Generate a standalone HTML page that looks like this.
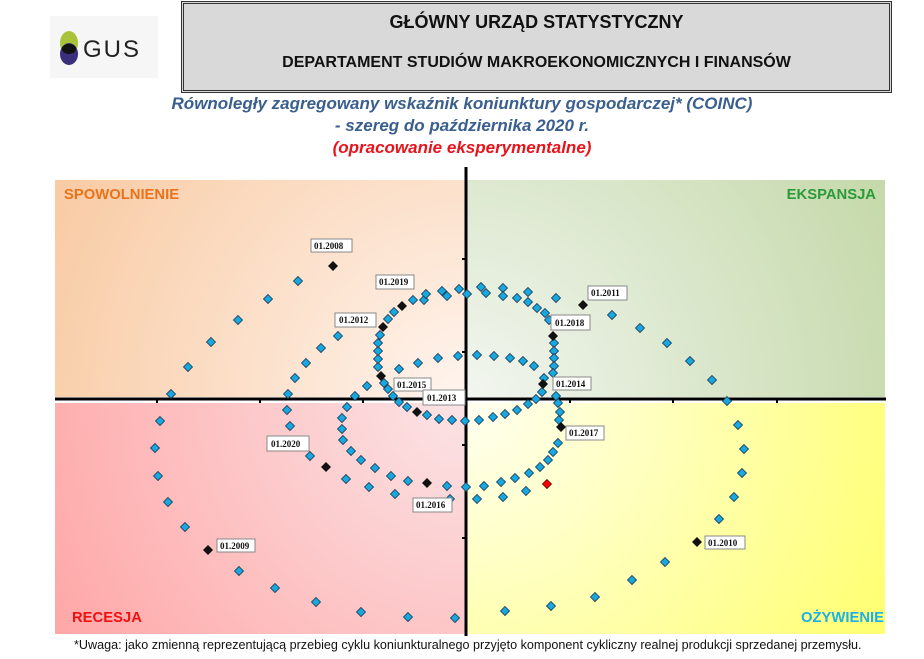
<!DOCTYPE html>
<html><head><meta charset="utf-8"><style>
body{margin:0;width:924px;height:659px;background:#fff;overflow:hidden;position:relative;font-family:"Liberation Sans Narrow","Liberation Sans",sans-serif}
.hdr{position:absolute;left:181px;top:1px;width:705px;height:86px;background:#d9d9d9;border:3px double #333}
.t1{position:absolute;left:0;right:0;top:8px;text-align:center;font-weight:bold;font-size:18px;color:#111}
.t2{position:absolute;left:0;right:0;top:50px;text-align:center;font-weight:bold;font-size:16px;color:#111}
.tt{position:absolute;left:0;width:924px;text-align:center;font-weight:bold;font-style:italic;font-size:17px;color:#3a5f8f}
.q{position:absolute;font-family:"Liberation Sans",sans-serif;font-weight:bold;font-size:14.8px}
.foot{position:absolute;left:74px;top:638px;font-size:12.6px;color:#111;white-space:nowrap}
</style></head><body>
<svg style="position:absolute;left:50px;top:16px" width="108" height="62">
<rect width="108" height="62" fill="#f6f6f6"/>
<ellipse cx="19" cy="27" rx="9" ry="12" fill="#a9c43a"/>
<ellipse cx="19" cy="38" rx="9" ry="11" fill="#3a2f7a"/>
<ellipse cx="19" cy="33" rx="7" ry="5" fill="#111"/>
<text x="33" y="41" font-family="Liberation Sans" font-size="24" fill="#222" letter-spacing="2">GUS</text>
</svg>
<div class="hdr"><div class="t1">GŁÓWNY URZĄD STATYSTYCZNY</div><div class="t2">DEPARTAMENT STUDIÓW MAKROEKONOMICZNYCH I FINANSÓW</div></div>
<div class="tt" style="top:94px">Równoległy zagregowany wskaźnik koniunktury gospodarczej* (COINC)</div>
<div class="tt" style="top:116px">- szereg do października 2020 r.</div>
<div class="tt" style="top:138px;color:#e8141c">(opracowanie eksperymentalne)</div>
<svg style="position:absolute;left:0;top:0" width="924" height="659">
<defs>
<radialGradient id="g1" cx="466" cy="398" r="480" gradientUnits="userSpaceOnUse"><stop offset="0" stop-color="#fff4ee"/><stop offset="1" stop-color="#f8c9a0"/></radialGradient>
<radialGradient id="g2" cx="466" cy="398" r="480" gradientUnits="userSpaceOnUse"><stop offset="0" stop-color="#f2f6f0"/><stop offset="1" stop-color="#c4d8a8"/></radialGradient>
<radialGradient id="g3" cx="466" cy="398" r="480" gradientUnits="userSpaceOnUse"><stop offset="0" stop-color="#fbe4e6"/><stop offset="1" stop-color="#ffa6a6"/></radialGradient>
<radialGradient id="g4" cx="466" cy="398" r="480" gradientUnits="userSpaceOnUse"><stop offset="0" stop-color="#fffff2"/><stop offset="1" stop-color="#ffff70"/></radialGradient>
<path id="d" d="M0,-4.5L4.5,0L0,4.5L-4.5,0Z" fill="#18a8e0" stroke="#1a3550" stroke-width="0.8"/>
<path id="k" d="M0,-5L5,0L0,5L-5,0Z" fill="#111"/>
</defs>
<rect x="55" y="180" width="411" height="217" fill="url(#g1)"/>
<rect x="466" y="180" width="419" height="217" fill="url(#g2)"/>
<rect x="55" y="403" width="411" height="231" fill="url(#g3)"/>
<rect x="466" y="403" width="419" height="231" fill="url(#g4)"/>
<line x1="55" y1="399" x2="886" y2="399" stroke="#000" stroke-width="3"/>
<line x1="466" y1="167" x2="466" y2="636" stroke="#000" stroke-width="3"/>
<g stroke="#000" stroke-width="2">
<line x1="157" y1="399" x2="157" y2="403"/><line x1="260" y1="399" x2="260" y2="403"/><line x1="363" y1="399" x2="363" y2="403"/><line x1="570" y1="399" x2="570" y2="403"/><line x1="673" y1="399" x2="673" y2="403"/><line x1="777" y1="399" x2="777" y2="403"/>
<line x1="462" y1="259" x2="466" y2="259"/><line x1="462" y1="352" x2="466" y2="352"/><line x1="462" y1="445" x2="466" y2="445"/><line x1="462" y1="538" x2="466" y2="538"/>
</g>
<g>
<use href="#d" x="298" y="281"/><use href="#d" x="268" y="299"/><use href="#d" x="238" y="320"/><use href="#d" x="211" y="342"/><use href="#d" x="188" y="367"/><use href="#d" x="171" y="394"/><use href="#d" x="160" y="421"/><use href="#d" x="155" y="448"/><use href="#d" x="158" y="476"/><use href="#d" x="168" y="502"/><use href="#d" x="185" y="527"/><use href="#d" x="239" y="571"/><use href="#d" x="275" y="588"/><use href="#d" x="316" y="602"/><use href="#d" x="361" y="612"/><use href="#d" x="408" y="617"/><use href="#d" x="455" y="618"/><use href="#d" x="505" y="611"/><use href="#d" x="551" y="606"/><use href="#d" x="595" y="597"/><use href="#d" x="632" y="580"/><use href="#d" x="665" y="562"/><use href="#d" x="719" y="519"/><use href="#d" x="734" y="497"/><use href="#d" x="742" y="473"/><use href="#d" x="744" y="449"/><use href="#d" x="738" y="425"/><use href="#d" x="727" y="401"/><use href="#d" x="712" y="380"/><use href="#d" x="690" y="361"/><use href="#d" x="667" y="343"/><use href="#d" x="640" y="328"/><use href="#d" x="612" y="315"/>
<use href="#d" x="338" y="336"/><use href="#d" x="321" y="348"/><use href="#d" x="306" y="363"/><use href="#d" x="295" y="378"/><use href="#d" x="288" y="394"/><use href="#d" x="287" y="410"/><use href="#d" x="290" y="426"/><use href="#d" x="310" y="456"/><use href="#d" x="346" y="479"/><use href="#d" x="369" y="487"/><use href="#d" x="395" y="494"/><use href="#d" x="447" y="486"/><use href="#d" x="450" y="499"/><use href="#d" x="466" y="487"/><use href="#d" x="477" y="499"/><use href="#d" x="484" y="486"/><use href="#d" x="503" y="497"/><use href="#d" x="501" y="482"/><use href="#d" x="515" y="478"/><use href="#d" x="526" y="491"/><use href="#d" x="529" y="473"/><use href="#d" x="540" y="467"/><use href="#d" x="548" y="460"/><use href="#d" x="553" y="452"/><use href="#d" x="558" y="443"/><use href="#d" x="559" y="420"/><use href="#d" x="560" y="412"/><use href="#d" x="558" y="403"/><use href="#d" x="556" y="396"/><use href="#d" x="542" y="392"/><use href="#d" x="536" y="399"/><use href="#d" x="528" y="404"/><use href="#d" x="517" y="410"/><use href="#d" x="505" y="414"/><use href="#d" x="493" y="417"/><use href="#d" x="479" y="420"/><use href="#d" x="465" y="421"/><use href="#d" x="452" y="420"/><use href="#d" x="439" y="419"/><use href="#d" x="427" y="415"/><use href="#d" x="407" y="407"/><use href="#d" x="399" y="402"/><use href="#d" x="393" y="396"/><use href="#d" x="388" y="389"/><use href="#d" x="384" y="383"/><use href="#d" x="378" y="367"/><use href="#d" x="378" y="359"/><use href="#d" x="378" y="351"/><use href="#d" x="378" y="343"/><use href="#d" x="380" y="335"/><use href="#d" x="388" y="319"/><use href="#d" x="394" y="312"/><use href="#d" x="413" y="300"/><use href="#d" x="424" y="300"/><use href="#d" x="426" y="294"/><use href="#d" x="442" y="291"/><use href="#d" x="447" y="296"/><use href="#d" x="459" y="289"/><use href="#d" x="467" y="294"/><use href="#d" x="481" y="287"/><use href="#d" x="486" y="293"/><use href="#d" x="503" y="288"/><use href="#d" x="503" y="296"/><use href="#d" x="517" y="298"/><use href="#d" x="528" y="292"/><use href="#d" x="528" y="302"/><use href="#d" x="537" y="308"/><use href="#d" x="545" y="313"/><use href="#d" x="549" y="320"/><use href="#d" x="556" y="298"/><use href="#d" x="554" y="343"/><use href="#d" x="554" y="351"/><use href="#d" x="554" y="358"/><use href="#d" x="554" y="366"/><use href="#d" x="553" y="373"/><use href="#d" x="544" y="378"/><use href="#d" x="534" y="366"/><use href="#d" x="523" y="361"/><use href="#d" x="510" y="358"/><use href="#d" x="494" y="356"/><use href="#d" x="477" y="355"/><use href="#d" x="458" y="356"/><use href="#d" x="438" y="358"/><use href="#d" x="418" y="363"/><use href="#d" x="399" y="369"/><use href="#d" x="367" y="386"/><use href="#d" x="355" y="396"/><use href="#d" x="347" y="407"/><use href="#d" x="342" y="418"/><use href="#d" x="342" y="429"/><use href="#d" x="343" y="440"/><use href="#d" x="351" y="451"/><use href="#d" x="361" y="460"/><use href="#d" x="375" y="468"/><use href="#d" x="391" y="476"/><use href="#d" x="408" y="481"/>
</g>
<path d="M547,479.5L551.5,484L547,488.5L542.5,484Z" fill="#f00" stroke="#600" stroke-width="0.8"/>
<g>
<use href="#k" x="333" y="266"/><use href="#k" x="208" y="550"/><use href="#k" x="697" y="542"/><use href="#k" x="583" y="305"/><use href="#k" x="383" y="327"/><use href="#k" x="417" y="412"/><use href="#k" x="543" y="384"/><use href="#k" x="381" y="376"/><use href="#k" x="427" y="483"/><use href="#k" x="561" y="427"/><use href="#k" x="553" y="336"/><use href="#k" x="402" y="306"/><use href="#k" x="326" y="467"/>
</g>
<g font-family="Liberation Serif" font-weight="bold" font-size="9" fill="#111" stroke-width="1">
<g fill="#fff" stroke="#888">
<rect x="311" y="239" width="41" height="13"/><rect x="376" y="275" width="38" height="14"/><rect x="335" y="313" width="41" height="14"/><rect x="394" y="378" width="37" height="13"/><rect x="423" y="390" width="42" height="15"/><rect x="553" y="377" width="38" height="13"/><rect x="566" y="426" width="38" height="14"/><rect x="551" y="315" width="39" height="15"/><rect x="588" y="286" width="39" height="14"/><rect x="267" y="436" width="42" height="15"/><rect x="413" y="498" width="39" height="14"/><rect x="217" y="539" width="38" height="13"/><rect x="705" y="536" width="40" height="13"/>
</g>
<text x="314" y="249">01.2008</text><text x="379" y="285">01.2019</text><text x="339" y="323">01.2012</text><text x="397" y="388">01.2015</text><text x="427" y="401">01.2013</text><text x="556" y="387">01.2014</text><text x="569" y="436">01.2017</text><text x="555" y="326">01.2018</text><text x="591" y="296">01.2011</text><text x="271" y="447">01.2020</text><text x="416" y="508">01.2016</text><text x="220" y="549">01.2009</text><text x="708" y="546">01.2010</text>
</g>
</svg>
<div class="q" style="left:64px;top:187px;color:#e8731c">SPOWOLNIENIE</div>
<div class="q" style="right:48px;top:187px;color:#2a9a3a">EKSPANSJA</div>
<div class="q" style="left:72px;top:610px;color:#f01010">RECESJA</div>
<div class="q" style="right:40px;top:610px;color:#1ab0e8">OŻYWIENIE</div>
<div class="foot">*Uwaga: jako zmienną reprezentującą przebieg cyklu koniunkturalnego przyjęto komponent cykliczny realnej produkcji sprzedanej przemysłu.</div>
</body></html>
